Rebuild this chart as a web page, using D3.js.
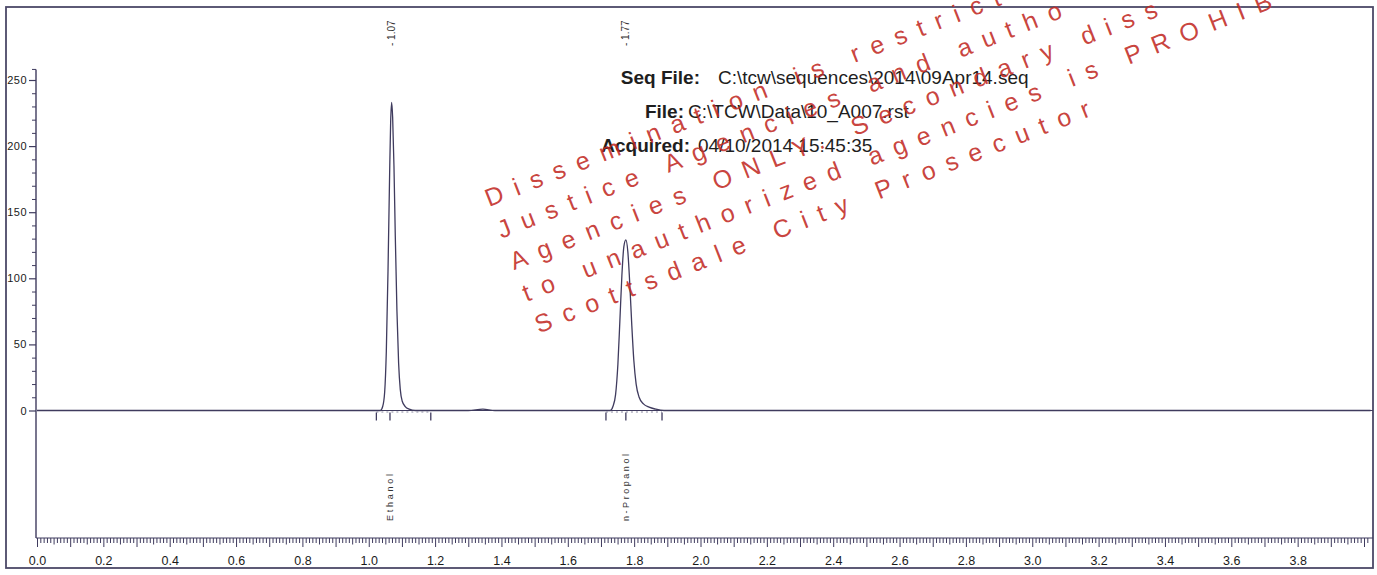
<!DOCTYPE html>
<html>
<head>
<meta charset="utf-8">
<script src="https://cdn.jsdelivr.net/npm/d3@7/dist/d3.min.js"></script>
<style>
  html, body { margin: 0; padding: 0; background: #fff; }
  svg { display: block; }
</style>
</head>
<body>
<svg id="chart" width="1377" height="575"></svg>
<script>
// ---------------- data ----------------
const traceTime = [0, 0.5, 1.0, 1.035, 1.042, 1.048, 1.053, 1.058, 1.063, 1.066, 1.069, 1.072, 1.076, 1.080, 1.085, 1.090, 1.095, 1.101, 1.110, 1.122, 1.140,
  1.30, 1.344, 1.38, 1.728, 1.736, 1.744, 1.751, 1.757, 1.763, 1.769, 1.775, 1.781, 1.787, 1.793, 1.799, 1.806, 1.815, 1.828, 1.845, 1.865, 1.890, 3.0, 4.02];
const traceSignal = [0, 0, 0, 0, 3, 14, 45, 105, 180, 218, 233, 222, 185, 132, 75, 36, 16, 7, 3, 1, 0,
  0, 1, 0, 0, 3, 12, 35, 68, 102, 124, 129, 120, 95, 64, 38, 20, 10, 5, 2.5, 1, 0, 0, 0];

const peakTimes = [1.069, 1.775];
const peakLabels = ["- 1.07", "- 1.77"];
const compoundNames = ["Ethanol", "n-Propanol"];
const compoundTimes = [1.064, 1.775];
const eventTimes = [1.023, 1.064, 1.187, 1.715, 1.775, 1.884];
const baselineSpans = [[1.023, 1.187], [1.715, 1.884]];

const yTickValues = [0, 50, 100, 150, 200, 250];
const xTickValues = [0, 0.2, 0.4, 0.6, 0.8, 1.0, 1.2, 1.4, 1.6, 1.8, 2.0, 2.2, 2.4, 2.6, 2.8, 3.0, 3.2, 3.4, 3.6, 3.8];
const xTickLabels = ["0.0", "0.2", "0.4", "0.6", "0.8", "1.0", "1.2", "1.4", "1.6", "1.8", "2.0", "2.2", "2.4", "2.6", "2.8", "3.0", "3.2", "3.4", "3.6", "3.8"];

const headerLabels = ["Seq File:", "File:", "Acquired:"];
const headerValues = ["C:\\tcw\\sequences\\2014\\09Apr14.seq", "C:\\TCW\\Data\\10_A007.rst", "04/10/2014 15:45:35"];

// watermark lines, as far as they are visible inside the page
const watermarkLines = [
  "Dissemination is restrict",
  "Justice Agencies and autho",
  "Agencies ONLY. Secondary diss",
  "to unauthorized agencies is PROHIB",
  "Scottsdale City Prosecutor"
];

// ---------------- drawing ----------------
const svg = d3.select("#chart");
const ink = "#3f3b5e";
const frameColor = "#4c4968";
const font = "Liberation Sans, Arial, sans-serif";

const x = d3.scaleLinear().domain([0, 4]).range([37, 1364]);
const y = d3.scaleLinear().domain([0, 250]).range([410.5, 80]);
const axisY = 538;

// frame
svg.append("rect").attr("x", 6).attr("y", 7).attr("width", 1367).attr("height", 561)
  .attr("fill", "none").attr("stroke", frameColor).attr("stroke-width", 1.8);

// y axis
const yAxis = d3.axisLeft(y).tickValues(yTickValues).tickSize(7).tickPadding(2).tickFormat(d3.format("d"));
const gy = svg.append("g").attr("transform", `translate(${x(0) - 1},0)`).call(yAxis);
gy.select(".domain").remove();
gy.selectAll("line").attr("stroke", ink).attr("stroke-width", 1.2);
gy.selectAll("text").attr("font-family", font).attr("font-size", 11)
  .attr("fill", "#1a1a1a").attr("letter-spacing", 0.5);
const yMinor = d3.axisLeft(y).tickValues(d3.range(0, 251, 10).filter(v => v % 50 !== 0)).tickSize(4).tickFormat("");
const gym = svg.append("g").attr("transform", `translate(${x(0) - 1},0)`).call(yMinor);
gym.select(".domain").remove();
gym.selectAll("line").attr("stroke", ink).attr("stroke-width", 1);
svg.append("line").attr("x1", x(0) - 1).attr("x2", x(0) - 1).attr("y1", y(258)).attr("y2", axisY)
  .attr("stroke", ink).attr("stroke-width", 1.4);
svg.append("line").attr("x1", x(0) - 5).attr("x2", x(0) - 1).attr("y1", y(258)).attr("y2", y(258))
  .attr("stroke", ink).attr("stroke-width", 1);

// x axis
const minorVals = d3.range(0, 402).map(i => i / 100);
const gx = svg.append("g").attr("transform", `translate(0,${axisY})`);
gx.append("line").attr("x1", x(0) - 1).attr("x2", 1373).attr("y1", 0).attr("y2", 0)
  .attr("stroke", ink).attr("stroke-width", 1);
const xMinorAxis = d3.axisBottom(x).tickValues(minorVals).tickSizeInner(5).tickSizeOuter(0).tickFormat("");
const gxm = gx.append("g").call(xMinorAxis);
gxm.select(".domain").remove();
gxm.selectAll(".tick line")
  .attr("y2", d => (Math.round(d * 100) % 10 === 0) ? 9 : (Math.round(d * 100) % 5 === 0 ? 6.5 : 5))
  .attr("stroke", ink).attr("stroke-width", 1);
const xMajorAxis = d3.axisBottom(x).tickValues(xTickValues).tickSize(0).tickPadding(18)
  .tickFormat((d, i) => xTickLabels[i]);
const gxM = gx.append("g").call(xMajorAxis);
gxM.select(".domain").remove();
gxM.selectAll("text").attr("font-family", font).attr("font-size", 12.5).attr("fill", "#1a1a1a");

// zero baseline extension to frame
svg.append("line").attr("x1", x(0)).attr("x2", 1373).attr("y1", y(0)).attr("y2", y(0))
  .attr("stroke", ink).attr("stroke-width", 1);

// trace
const pts = traceTime.map((t, i) => [t, traceSignal[i]]);
const line = d3.line().x(d => x(d[0])).y(d => y(d[1])).curve(d3.curveMonotoneX);
svg.append("path").datum(pts).attr("d", line).attr("fill", "none")
  .attr("stroke", ink).attr("stroke-width", 1.3);

// integration baselines and event markers
svg.selectAll(".bspan").data(baselineSpans).enter().append("line")
  .attr("x1", d => x(d[0])).attr("x2", d => x(d[1]))
  .attr("y1", y(0) + 1.5).attr("y2", y(0) + 1.5)
  .attr("stroke", "#8a88a0").attr("stroke-width", 1).attr("stroke-dasharray", "2,3");
svg.selectAll(".evt").data(eventTimes).enter().append("line")
  .attr("x1", d => x(d)).attr("x2", d => x(d))
  .attr("y1", y(0) + 2).attr("y2", y(0) + 10)
  .attr("stroke", ink).attr("stroke-width", 1.3);

// retention time labels (top)
svg.selectAll(".rt").data(peakTimes).enter().append("text")
  .attr("transform", d => `translate(${x(d) + 3.5},46) rotate(-90)`)
  .attr("font-family", font).attr("font-size", 10).attr("fill", "#333")
  .text((d, i) => peakLabels[i]);

// compound names (bottom)
svg.selectAll(".cn").data(compoundTimes).enter().append("text")
  .attr("transform", d => `translate(${x(d) + 3},521) rotate(-90)`)
  .attr("font-family", font).attr("font-size", 9).attr("fill", "#333")
  .attr("textLength", (d, i) => compoundNames[i].length * 6.7).attr("lengthAdjust", "spacing")
  .text((d, i) => compoundNames[i]);

// header block
const hdr = svg.append("g").attr("font-family", font).attr("font-size", 19).attr("fill", "#1e1e1e");
const hdrLabelRight = [700, 684, 690];
const hdrValueLeft = [718, 688, 698];
const hdrBase = [84, 118, 152];
headerLabels.forEach((lab, i) => {
  hdr.append("text").attr("x", hdrLabelRight[i]).attr("y", hdrBase[i]).attr("text-anchor", "end")
    .attr("font-weight", "bold").text(lab);
  hdr.append("text").attr("x", hdrValueLeft[i]).attr("y", hdrBase[i]).text(headerValues[i]);
});

// watermark
const wm = svg.append("g").attr("transform", "translate(489,207) rotate(-21.5)")
  .attr("font-family", font).attr("font-size", 25)
  .attr("fill", "#c22b25").attr("fill-opacity", 0.88).attr("letter-spacing", 12);
watermarkLines.forEach((ln, i) => {
  wm.append("text").attr("x", 0).attr("y", i * 34).text(ln);
});
</script>
</body>
</html>
